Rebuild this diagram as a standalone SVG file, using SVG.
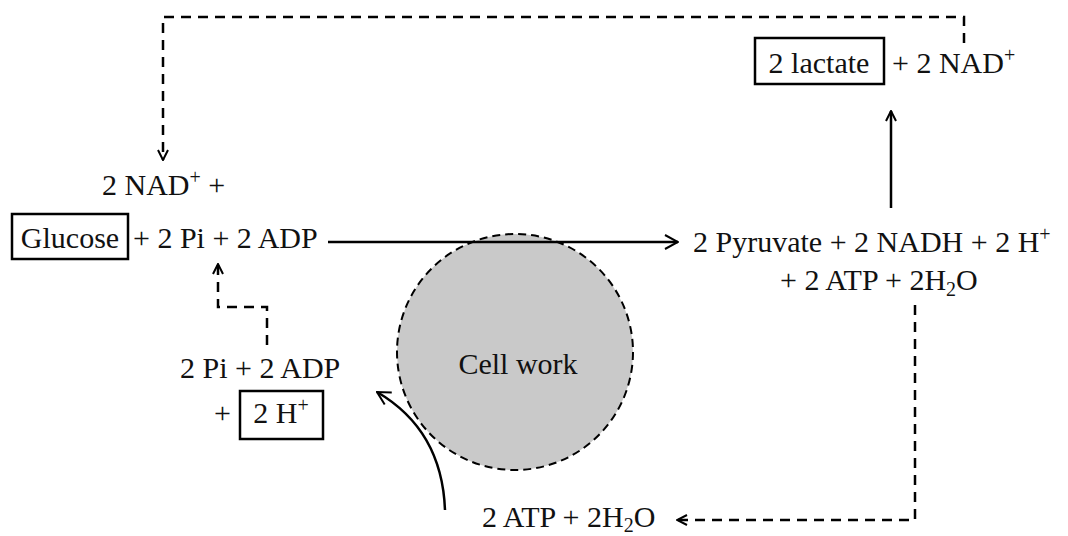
<svg xmlns="http://www.w3.org/2000/svg" width="1068" height="536" viewBox="0 0 1068 536">
<defs>
<marker id="chev" viewBox="0 0 12 12" refX="11" refY="6" markerWidth="12" markerHeight="12" markerUnits="userSpaceOnUse" orient="auto">
<path d="M1,1 L11,6 L1,11" fill="none" stroke="#000" stroke-width="2"/>
</marker>
<marker id="chevL" viewBox="0 0 16 16" refX="15" refY="8" markerWidth="16" markerHeight="16" markerUnits="userSpaceOnUse" orient="auto">
<path d="M2,1 L15,8 L2,15" fill="none" stroke="#000" stroke-width="2"/>
</marker>
</defs>
<style>
text{font-family:"Liberation Serif","Times New Roman",serif;font-size:30px;fill:#111}
.box{fill:#fff;stroke:#000;stroke-width:2.5}
.dash{fill:none;stroke:#000;stroke-width:2.5;stroke-dasharray:10,7}
.solid{fill:none;stroke:#000;stroke-width:2.5}
.sup{font-size:20px}
</style>
<rect width="1068" height="536" fill="#fff"/>
<g id="cellwork">
<circle cx="515" cy="352" r="118" fill="#c9c9c9" stroke="#000" stroke-width="2" stroke-dasharray="8,5"/>
<text x="518" y="374" text-anchor="middle">Cell work</text>
</g>
<g id="connectors">
<path class="dash" d="M964,43 V17 H163 V160" marker-end="url(#chev)"/>
<path class="solid" d="M891,208 V111" marker-end="url(#chev)"/>
<path class="solid" d="M328,242 H678" marker-end="url(#chevL)"/>
<path class="dash" d="M915,305 V520 H677" marker-end="url(#chev)"/>
<path class="dash" d="M267,345 V307 H218 V264" marker-end="url(#chev)"/>
<path class="solid" d="M445,510 Q442,430 377,392" marker-end="url(#chevL)"/>
</g>
<g id="lactate">
<rect class="box" x="755" y="38" width="129" height="46"/>
<text x="819" y="73" text-anchor="middle">2 lactate</text>
<text x="892" y="73">+ 2 NAD<tspan class="sup" dy="-11">+</tspan></text>
</g>
<g id="nad">
<text x="102" y="195">2 NAD<tspan class="sup" dy="-11">+</tspan><tspan dy="11"> +</tspan></text>
</g>
<g id="glucose">
<rect class="box" x="12" y="214" width="116" height="45"/>
<text x="70" y="248" text-anchor="middle">Glucose</text>
<text x="133" y="248">+ 2 Pi + 2 ADP</text>
</g>
<g id="pyruvate">
<text x="693" y="252">2 Pyruvate + 2 NADH + 2 H<tspan class="sup" dy="-11">+</tspan></text>
<text x="780" y="290">+ 2 ATP + 2H<tspan class="sup" dy="6">2</tspan><tspan dy="-6">O</tspan></text>
</g>
<g id="atp">
<text x="482" y="527">2 ATP + 2H<tspan class="sup" dy="5">2</tspan><tspan dy="-5">O</tspan></text>
</g>
<g id="pi-adp">
<text x="180" y="378">2 Pi + 2 ADP</text>
<text x="214" y="423">+</text>
<rect class="box" x="240" y="391" width="83" height="48"/>
<text x="281" y="423" text-anchor="middle">2 H<tspan class="sup" dy="-11">+</tspan></text>
</g>
</svg>
